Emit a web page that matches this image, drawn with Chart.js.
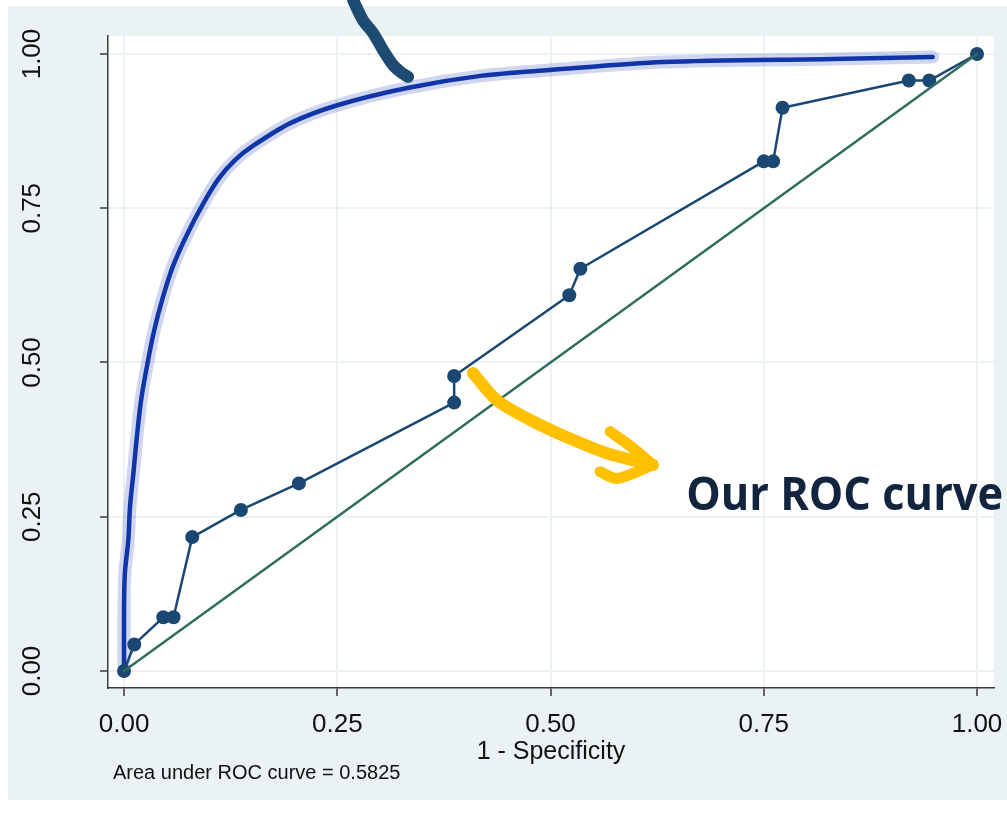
<!DOCTYPE html>
<html>
<head>
<meta charset="utf-8">
<title>ROC curve</title>
<script src="https://cdn.jsdelivr.net/npm/chart.js@4.4.1/dist/chart.umd.min.js"></script>
<style>
  html, body { margin: 0; padding: 0; background: #fff; }
  canvas { display: block; }
</style>
</head>
<body>
<canvas id="roc" width="1007" height="828"></canvas>
<script>
// Curva ROC empírica del modelo (1 - especificidad, sensibilidad)
var rocFpr = [0, 0.012, 0.046, 0.058, 0.080, 0.137, 0.205, 0.387, 0.387, 0.522, 0.535, 0.750, 0.761, 0.772, 0.920, 0.944, 1.0];
var rocTpr = [0, 0.043, 0.087, 0.087, 0.217, 0.261, 0.304, 0.435, 0.478, 0.609, 0.652, 0.826, 0.826, 0.913, 0.957, 0.957, 1.0];

// Curva "ideal" trazada a mano
var idealFpr = [0, 0, 0.001, 0.005, 0.007, 0.011, 0.015, 0.020, 0.027, 0.035, 0.045, 0.057, 0.074, 0.093, 0.111, 0.130, 0.151, 0.195, 0.250, 0.332, 0.420, 0.499, 0.632, 0.831, 0.948];
var idealTpr = [0, 0.104, 0.159, 0.212, 0.266, 0.321, 0.379, 0.439, 0.495, 0.550, 0.603, 0.655, 0.708, 0.758, 0.798, 0.828, 0.851, 0.888, 0.917, 0.945, 0.965, 0.974, 0.987, 0.992, 0.995];

// Referencia (azar)
var diagFpr = [0, 1];
var diagTpr = [0, 1];

// Flechas hechas a mano
var pointerX = [0.2685, 0.280, 0.292, 0.3036, 0.3154, 0.326, 0.333];
var pointerY = [1.0875, 1.0551, 1.034, 1.0065, 0.982, 0.969, 0.963];
var arrowShaftX = [0.409, 0.437, 0.476, 0.519, 0.566, 0.620];
var arrowShaftY = [0.483, 0.439, 0.407, 0.379, 0.353, 0.334];
var arrowUpX = [0.570, 0.596, 0.620];
var arrowUpY = [0.388, 0.362, 0.334];
var arrowLowX = [0.558, 0.578, 0.620];
var arrowLowY = [0.323, 0.312, 0.334];

var axisTicks = [0, 0.25, 0.5, 0.75, 1];
var xTitle = "1 - Specificity";
var aucText = "Area under ROC curve = 0.5825";
var calloutText = "Our ROC curve";
var calloutAt = { x: 0.659, y: 0.261 };

function pts(xs, ys) {
  return xs.map(function (x, i) { return { x: x, y: ys[i] }; });
}

function fixTicks(scale) {
  scale.ticks = axisTicks.map(function (v) { return { value: v }; });
}

// texto ajustado a un ancho dado
function drawFitted(ctx, text, x, y, width, font, color) {
  ctx.save();
  ctx.font = font;
  var w = ctx.measureText(text).width;
  ctx.translate(x, y);
  ctx.scale(width / w, 1);
  ctx.fillStyle = color;
  ctx.textAlign = "left";
  ctx.textBaseline = "alphabetic";
  ctx.fillText(text, 0, 0);
  ctx.restore();
}

var fondo = {
  id: "fondo",
  beforeDraw: function (chart) {
    var c = chart.ctx, a = chart.chartArea;
    c.save();
    c.fillStyle = "#ffffff";
    c.fillRect(0, 0, chart.width, chart.height);
    c.fillStyle = "#EAF2F3";
    c.fillRect(8, 6, chart.width - 8, 794);
    c.fillStyle = "#ffffff";
    c.fillRect(a.left, a.top, a.right - a.left, a.bottom - a.top);
    c.restore();
  },
  afterDraw: function (chart) {
    var c = chart.ctx, a = chart.chartArea;
    var sx = chart.scales.x, sy = chart.scales.y;
    drawFitted(c, calloutText, sx.getPixelForValue(calloutAt.x), sy.getPixelForValue(calloutAt.y), 317,
      "bold 46px 'Open Sans'", "#13243F");
    c.save();
    c.font = "20px 'Liberation Sans', Arial";
    c.fillStyle = "#111";
    c.textBaseline = "middle";
    c.fillText(aucText, a.left + 5, 773);
    c.restore();
  }
};

var navy = "#1A4873";
var green = "#2F6E5E";
var blue = "#1035A8";
var gold = "#FFC000";

var lineBase = { showLine: true, pointRadius: 0, fill: false, borderCapStyle: "round", borderJoinStyle: "round" };

function ds(extra) {
  return Object.assign({}, lineBase, extra);
}

new Chart(document.getElementById("roc"), {
  type: "scatter",
  data: {
    datasets: [
      ds({ data: pts(pointerX, pointerY), borderColor: "#1E4B72", borderWidth: 12, tension: 0.3, clip: false, order: 0 }),
      ds({ data: pts(arrowShaftX, arrowShaftY), borderColor: gold, borderWidth: 12, tension: 0.3, order: 1 }),
      ds({ data: pts(arrowUpX, arrowUpY), borderColor: gold, borderWidth: 11, tension: 0.2, order: 1 }),
      ds({ data: pts(arrowLowX, arrowLowY), borderColor: gold, borderWidth: 11, tension: 0.3, order: 1 }),
      ds({ data: pts(diagFpr, diagTpr), borderColor: green, borderWidth: 2.5, order: 3 }),
      ds({ data: pts(rocFpr, rocTpr), borderColor: navy, borderWidth: 2.5, pointRadius: 7,
           pointBackgroundColor: navy, pointBorderColor: navy, pointBorderWidth: 0, order: 4 }),
      ds({ data: pts(idealFpr, idealTpr), borderColor: blue, borderWidth: 4.5, tension: 0.3, order: 5 }),
      ds({ data: pts(idealFpr, idealTpr), borderColor: "rgba(40,70,180,0.22)", borderWidth: 13, tension: 0.3, order: 6 })
    ]
  },
  options: {
    responsive: false,
    animation: false,
    devicePixelRatio: 1,
    layout: { padding: { top: 36, right: 13, left: 0, bottom: 0 } },
    plugins: { legend: { display: false }, tooltip: { enabled: false } },
    scales: {
      x: {
        type: "linear",
        min: -0.0188, max: 1.0199,
        afterBuildTicks: fixTicks,
        afterFit: function (s) { s.height = 140; s.paddingLeft = 0; s.paddingRight = 0; },
        grid: { color: "#EAF2F3", lineWidth: 2, tickLength: 8, tickColor: "#3a3a3a", tickWidth: 1.5 },
        border: { color: "#3a3a3a", width: 1.5 },
        ticks: {
          padding: 13, color: "#111",
          font: { family: "'Liberation Sans', Arial", size: 26 },
          maxRotation: 0, minRotation: 0,
          callback: function (v) { return Number(v).toFixed(2); }
        },
        title: {
          display: true, text: xTitle, color: "#111",
          font: { family: "'Liberation Sans', Arial", size: 25 },
          padding: { top: 0, bottom: 61 }
        }
      },
      y: {
        type: "linear",
        min: -0.0276, max: 1.0292,
        afterBuildTicks: fixTicks,
        afterFit: function (s) { s.width = 108; s.paddingTop = 0; s.paddingBottom = 0; },
        grid: { color: "#EAF2F3", lineWidth: 2, tickLength: 8, tickColor: "#3a3a3a", tickWidth: 1.5 },
        border: { color: "#3a3a3a", width: 1.5 },
        ticks: {
          padding: 42, color: "#111", crossAlign: "center",
          minRotation: 90, maxRotation: 90,
          font: { family: "'Liberation Sans', Arial", size: 26 },
          callback: function (v) { return Number(v).toFixed(2); }
        }
      }
    }
  },
  plugins: [fondo]
});
</script>
</body>
</html>
